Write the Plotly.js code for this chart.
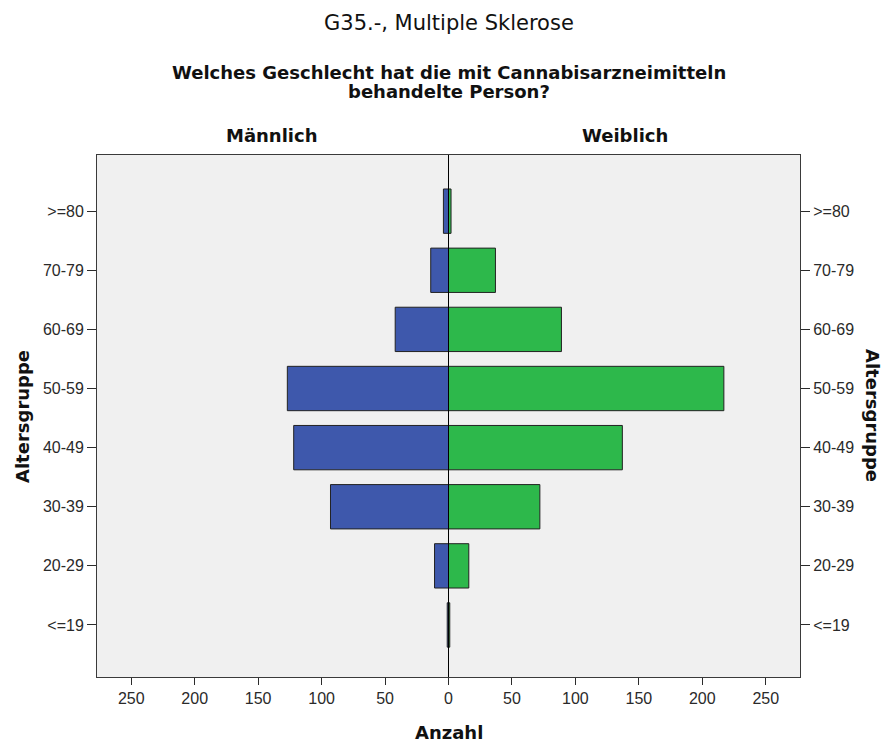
<!DOCTYPE html>
<html>
<head>
<meta charset="utf-8">
<script src="https://cdn.plot.ly/plotly-3.0.1.min.js"></script>
<style>
  html, body { margin: 0; padding: 0; background: #ffffff; }
  #chart { width: 885px; height: 742px; }
</style>
</head>
<body>
<div id="chart"></div>
<script>
const ageGroups = ["<=19", "20-29", "30-39", "40-49", "50-59", "60-69", "70-79", ">=80"];
const maleCounts = [1, 11, 93, 122, 127, 42, 14, 4];
const femaleCounts = [1, 16, 72, 137, 217, 89, 37, 2];
const xTickValues = [-250, -200, -150, -100, -50, 0, 50, 100, 150, 200, 250];
const xTickLabels = ["250", "200", "150", "100", "50", "0", "50", "100", "150", "200", "250"];

const TICKFONT = "Liberation Sans, Arial, sans-serif";
const BOLDFONT = "DejaVu Sans, Verdana, sans-serif";
const textColor = "#111111";
const tickColor = "#2b2b2b";

const traceMale = {
  type: "bar",
  orientation: "h",
  name: "Männlich",
  y: ageGroups,
  x: maleCounts.map(v => -v),
  marker: { color: "#3e58ac", line: { color: "#222222", width: 1 } },
  width: 0.75,
  hoverinfo: "skip"
};
const traceFemale = {
  type: "bar",
  orientation: "h",
  name: "Weiblich",
  y: ageGroups,
  x: femaleCounts,
  marker: { color: "#2db84b", line: { color: "#222222", width: 1 } },
  width: 0.75,
  hoverinfo: "skip"
};
const traceRight = {
  type: "bar",
  orientation: "h",
  y: ageGroups,
  x: femaleCounts.map(() => 0),
  yaxis: "y2",
  showlegend: false,
  hoverinfo: "skip",
  marker: { color: "rgba(0,0,0,0)" }
};

const layout = {
  width: 885,
  height: 742,
  paper_bgcolor: "#ffffff",
  plot_bgcolor: "#f0f0f0",
  barmode: "overlay",
  showlegend: false,
  margin: { l: 97, r: 85, t: 155, b: 65 },
  font: { family: TICKFONT, size: 16, color: textColor },
  xaxis: {
    range: [-277, 277],
    tickvals: xTickValues,
    ticktext: xTickLabels,
    ticks: "outside",
    ticklen: 7,
    tickcolor: tickColor,
    showgrid: false,
    zeroline: false,
    showline: true,
    linecolor: "#3a3a3a",
    linewidth: 1,
    mirror: true,
    tickfont: { family: TICKFONT, size: 16, color: "#2a2a2a" }
  },
  yaxis: {
    type: "category",
    categoryorder: "array",
    categoryarray: ageGroups,
    range: [-0.88, 7.95],
    ticks: "outside",
    ticklen: 9,
    tickcolor: tickColor,
    showgrid: false,
    zeroline: false,
    showline: true,
    linecolor: "#3a3a3a",
    linewidth: 1,
    mirror: true,
    ticklabelstandoff: 0,
    tickfont: { family: TICKFONT, size: 16, color: "#2a2a2a" }
  },
  yaxis2: {
    type: "category",
    categoryorder: "array",
    categoryarray: ageGroups,
    overlaying: "y",
    side: "right",
    range: [-0.88, 7.95],
    ticks: "outside",
    ticklen: 9,
    tickcolor: tickColor,
    showgrid: false,
    zeroline: false,
    showline: false,
    ticklabelstandoff: 0,
    tickfont: { family: TICKFONT, size: 16, color: "#2a2a2a" }
  },
  shapes: [
    { type: "line", xref: "x", yref: "paper", x0: 0, x1: 0, y0: 0, y1: 1,
      line: { color: "#000000", width: 1 }, layer: "above" }
  ],
  annotations: [
    { text: "G35.-, Multiple Sklerose", xref: "paper", yref: "paper", x: 0.5, y: 1,
      xanchor: "center", yanchor: "middle", yshift: 132, showarrow: false,
      font: { family: BOLDFONT, size: 21, color: textColor } },
    { text: "<b>Welches Geschlecht hat die mit Cannabisarzneimitteln</b>",
      xref: "paper", yref: "paper", x: 0.5, y: 1, xanchor: "center", yanchor: "middle",
      yshift: 83, showarrow: false,
      font: { family: BOLDFONT, size: 18, color: textColor } },
    { text: "<b>behandelte Person?</b>",
      xref: "paper", yref: "paper", x: 0.5, y: 1, xanchor: "center", yanchor: "middle",
      yshift: 64, showarrow: false,
      font: { family: BOLDFONT, size: 18, color: textColor } },
    { text: "<b>Männlich</b>", xref: "x", yref: "paper", x: -139, y: 1,
      xanchor: "center", yanchor: "middle", yshift: 20, showarrow: false,
      font: { family: BOLDFONT, size: 18, color: textColor } },
    { text: "<b>Weiblich</b>", xref: "x", yref: "paper", x: 139, y: 1,
      xanchor: "center", yanchor: "middle", yshift: 20, showarrow: false,
      font: { family: BOLDFONT, size: 18, color: textColor } },
    { text: "<b>Anzahl</b>", xref: "paper", yref: "paper", x: 0.5, y: 0,
      xanchor: "center", yanchor: "middle", yshift: -55, showarrow: false,
      font: { family: BOLDFONT, size: 18, color: textColor } },
    { text: "<b>Altersgruppe</b>", xref: "paper", yref: "paper", x: 0, y: 0.5,
      xanchor: "center", yanchor: "middle", xshift: -75, yshift: -1, textangle: -90, showarrow: false,
      font: { family: BOLDFONT, size: 18, color: textColor } },
    { text: "<b>Altersgruppe</b>", xref: "paper", yref: "paper", x: 1, y: 0.5,
      xanchor: "center", yanchor: "middle", xshift: 73, yshift: 1, textangle: 90, showarrow: false,
      font: { family: BOLDFONT, size: 18, color: textColor } }
  ]
};

Plotly.newPlot("chart", [traceMale, traceFemale, traceRight], layout, { displayModeBar: false, staticPlot: true });
</script>
</body>
</html>
